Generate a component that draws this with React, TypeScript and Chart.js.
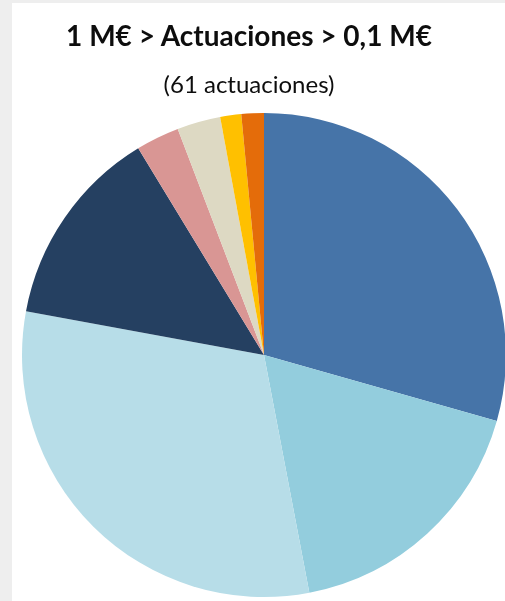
import React, { useEffect, useRef } from "react";
import { Chart, registerables } from "chart.js";

Chart.register(...registerables);

const categories = ["Cat. 1", "Cat. 2", "Cat. 3", "Cat. 4", "Cat. 5", "Cat. 6", "Cat. 7", "Cat. 8"];
const shares = [29.4, 17.6, 30.9, 13.4, 2.9, 2.9, 1.4, 1.5];
const colors = ["#4674a8", "#93cddd", "#b7dde8", "#254061", "#d99694", "#ddd9c3", "#ffc000", "#e46c0a"];
const titleText = "1 M€ > Actuaciones > 0,1 M€";
const subtitleText = "(61 actuaciones)";

export default function App() {
  const ref = useRef<HTMLCanvasElement | null>(null);

  useEffect(() => {
    if (!ref.current) return;
    const chart = new Chart(ref.current, {
      type: "pie",
      data: {
        labels: categories,
        datasets: [
          {
            data: shares,
            backgroundColor: colors,
            borderWidth: 0,
          },
        ],
      },
      options: {
        animation: false,
        responsive: false,
        maintainAspectRatio: false,
        layout: { padding: { top: 110, left: 10, right: 26, bottom: 4 } },
        plugins: {
          legend: { display: false },
          tooltip: { enabled: false },
          title: { display: false },
        },
      },
    });
    return () => chart.destroy();
  }, []);

  return (
    <div
      style={{
        position: "fixed",
        left: 0,
        top: 0,
        width: 505,
        height: 601,
        background: "#eeeeee",
        overflow: "hidden",
      }}
    >
      <div
        style={{
          position: "absolute",
          left: 12,
          top: 3,
          width: 493,
          height: 598,
          background: "#ffffff",
          overflow: "hidden",
        }}
      >
        <canvas
          ref={ref}
          width={520}
          height={598}
          style={{ position: "absolute", left: 0, top: 0, width: 520, height: 598 }}
        />
        <div
          style={{
            position: "absolute",
            left: 0,
            width: 474,
            top: 15,
            textAlign: "center",
            fontFamily: "Lato, 'Open Sans', sans-serif",
            fontWeight: 700,
            fontSize: 28,
            color: "#0d0d0d",
            whiteSpace: "nowrap",
            lineHeight: "34px",
          }}
        >
          {titleText}
        </div>
        <div
          style={{
            position: "absolute",
            left: 0,
            width: 474,
            top: 67,
            textAlign: "center",
            fontFamily: "Lato, 'Open Sans', sans-serif",
            fontWeight: 400,
            fontSize: 24,
            color: "#0d0d0d",
            whiteSpace: "nowrap",
            lineHeight: "28px",
          }}
        >
          {subtitleText}
        </div>
      </div>
    </div>
  );
}
